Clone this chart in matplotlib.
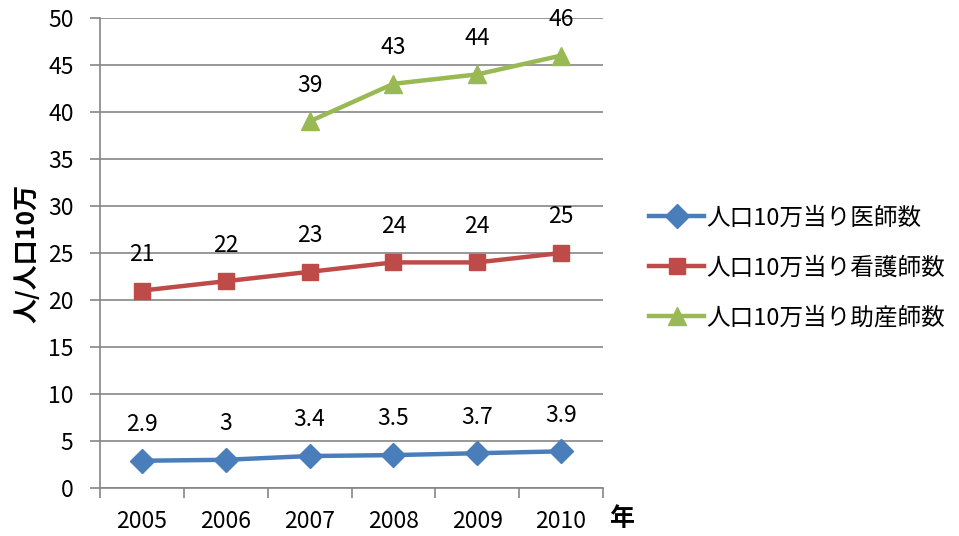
import numpy as np
import matplotlib.pyplot as plt

plt.rcParams['font.family'] = ['Noto Sans CJK JP', 'DejaVu Sans']

years = ['2005', '2006', '2007', '2008', '2009', '2010']
doctors = [2.9, 3, 3.4, 3.5, 3.7, 3.9]
nurses = [21, 22, 23, 24, 24, 25]
midwives = [np.nan, np.nan, 39, 43, 44, 46]

series = [
    ('人口10万当り医師数', doctors, '#4A7EBB', 'D', 12),
    ('人口10万当り看護師数', nurses, '#BE4B48', 's', 11),
    ('人口10万当り助産師数', midwives, '#98B954', '^', 13),
]

fig = plt.figure(figsize=(9.59, 5.36), dpi=100)
ax = fig.add_axes([100 / 959, 1 - 488 / 536, 503 / 959, 470 / 536])

x = np.arange(len(years))
for label, vals, color, marker, ms in series:
    ax.plot(x, vals, color=color, lw=3.2, marker=marker, markersize=ms,
            label=label, zorder=3)
    for xi, v in zip(x, vals):
        if np.isnan(v):
            continue
        ax.annotate(f'{v:g}', (xi, v), xytext=(0, 26), textcoords='offset points',
                    ha='center', va='center', fontsize=16.5, zorder=4)

ax.set_xlim(-0.5, len(years) - 0.5)
ax.set_ylim(0, 50)
ax.set_yticks(np.arange(0, 51, 5))
ax.yaxis.grid(True, color='#868686', lw=1.2)
ax.set_axisbelow(True)

# category labels sit between the boundary ticks
ax.set_xticks(np.arange(-0.5, len(years)), labels=[''] * (len(years) + 1))
ax.set_xticks(x, labels=years, minor=True)
ax.tick_params(axis='x', which='minor', length=0, pad=16, labelsize=16.5)
ax.tick_params(axis='x', which='major', length=7, width=1.2, color='#868686', direction='out')
ax.tick_params(axis='y', length=7, width=1.2, color='#868686', direction='out',
               labelsize=16.5, pad=12)

for s in ['top', 'right']:
    ax.spines[s].set_visible(False)
for s in ['left', 'bottom']:
    ax.spines[s].set_color('#868686')
    ax.spines[s].set_linewidth(1.2)

ax.set_ylabel('人/人口10万', fontsize=18, fontweight='bold', labelpad=6)
fig.text(622 / 959, 1 - 519 / 536, '年', fontsize=18, fontweight='bold',
         ha='center', va='center')

fig.legend(loc='center left', bbox_to_anchor=(640 / 959, 1 - 268 / 536),
           frameon=False, fontsize=17, handlelength=2.3, handletextpad=0.1,
           labelspacing=1.15, borderaxespad=0)

fig.savefig('out.png', dpi=100)
